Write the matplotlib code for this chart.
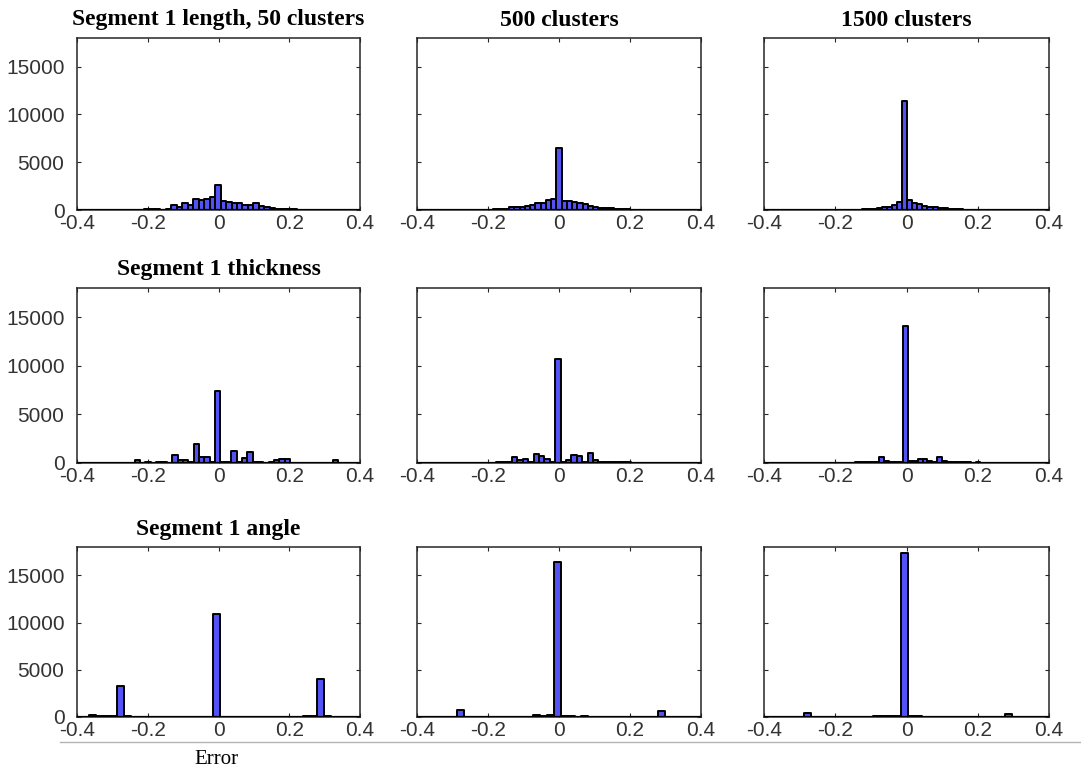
import numpy as np
import matplotlib
matplotlib.use("Agg")
import matplotlib.pyplot as plt
from matplotlib.lines import Line2D

# ---------------- data (histogram counts, keyed by bin index) ----------------
panel_titles = ["Segment 1 length, 50 clusters", "500 clusters", "1500 clusters",
                "Segment 1 thickness", "", "",
                "Segment 1 angle", "", ""]

x_ticks = [-0.4, -0.2, 0, 0.2, 0.4]
x_tick_labels = ["-0.4", "-0.2", "0", "0.2", "0.4"]
y_ticks = [0, 5000, 10000, 15000]
y_tick_labels = ["0", "5000", "10000", "15000"]

# bin width and centre of bin 0 for every panel
bin_widths = [0.0155, 0.0148, 0.0142,
              0.01515, 0.0152, 0.0135,
              0.0195, 0.0195, 0.0195]
bin_zero_centres = [-0.002, 0.0, -0.005,
                    -0.002, -0.003, -0.002,
                    -0.005, -0.005, -0.005]

length_50 = {-19: 30, -18: 30, -17: 40, -16: 30, -15: 40, -14: 50, -13: 60,
             -12: 80, -11: 100, -10: 50, -9: 100, -8: 500, -7: 300, -6: 700,
             -5: 550, -4: 1200, -3: 1000, -2: 1200, -1: 1350, 0: 2600,
             1: 950, 2: 800, 3: 750, 4: 750, 5: 500, 6: 500, 7: 750, 8: 400,
             9: 300, 10: 200, 11: 120, 12: 100, 13: 80, 14: 60, 15: 50,
             16: 40, 17: 30, 18: 30, 19: 40, 20: 30, 21: 30, 22: 20, 23: 30}
length_500 = {-16: 30, -15: 40, -14: 40, -13: 50, -12: 80, -11: 100, -10: 150,
              -9: 300, -8: 300, -7: 350, -6: 430, -5: 550, -4: 700, -3: 750,
              -2: 1050, -1: 1100, 0: 6500, 1: 900, 2: 900, 3: 820, 4: 700,
              5: 600, 6: 430, 7: 300, 8: 250, 9: 250, 10: 200, 11: 150,
              12: 100, 13: 80, 14: 50, 15: 40, 16: 30, 17: 30, 18: 20}
length_1500 = {-14: 30, -12: 30, -10: 30, -9: 40, -8: 60, -7: 80, -6: 130,
               -5: 200, -4: 280, -3: 350, -2: 500, -1: 800, 0: 11400,
               1: 1000, 2: 770, 3: 630, 4: 450, 5: 350, 6: 280, 7: 200,
               8: 170, 9: 100, 10: 80, 11: 60, 12: 40, 14: 30, 16: 30}
thick_50 = {-15: 280, -13: 60, -11: 80, -10: 100, -9: 50, -8: 830, -7: 310,
            -6: 310, -5: 60, -4: 1950, -3: 660, -2: 660, -1: 60, 0: 7400,
            1: 100, 2: 100, 3: 1250, 4: 100, 5: 490, 6: 1180, 7: 80, 8: 60,
            9: 40, 10: 150, 11: 310, 12: 380, 13: 450, 14: 30, 15: 30,
            22: 280, 24: 50}
thick_500 = {-14: 20, -13: 30, -12: 40, -11: 60, -10: 120, -9: 60, -8: 590,
             -7: 350, -6: 420, -5: 100, -4: 970, -3: 760, -2: 420, -1: 100,
             0: 10700, 1: 100, 2: 350, 3: 830, 4: 730, 5: 100, 6: 1000,
             7: 350, 8: 150, 9: 150, 10: 150, 11: 120, 12: 80, 13: 100,
             14: 30}
thick_1500 = {-13: 50, -12: 30, -11: 40, -10: 60, -9: 150, -8: 150, -7: 80,
              -6: 100, -5: 620, -4: 200, -3: 150, -2: 120, -1: 150,
              0: 14050, 1: 200, 2: 200, 3: 450, 4: 450, 5: 200, 6: 150,
              7: 620, 8: 250, 9: 100, 10: 80, 11: 60, 12: 150, 13: 60,
              14: 40, 15: 80}
angle_50 = {-20: 30, -18: 175, -17: 60, -16: 100, -15: 100, -14: 3250,
            -13: 60, 0: 10900, 13: 80, 14: 60, 15: 4000, 16: 100, 17: 50,
            18: 50}
angle_500 = {-14: 700, -3: 175, -2: 60, -1: 175, 0: 16400, 1: 150, 2: 60,
             4: 100, 15: 600}
angle_1500 = {-14: 450, -4: 60, -3: 60, -2: 80, -1: 100, 0: 17400, 1: 100,
              2: 60, 15: 350}

panel_counts = [length_50, length_500, length_1500,
                thick_50, thick_500, thick_1500,
                angle_50, angle_500, angle_1500]

# ---------------- style ----------------
W, H = 1081, 772
fig = plt.figure(figsize=(W / 100, H / 100), dpi=100)

col_x = [(77, 360), (417, 701), (764, 1049)]
row_y = [(38, 210), (288, 463), (547, 717)]

bar_color = "#5252f5"
axis_color = "#262626"
tick_color = "#333333"
tick_font = "Liberation Sans"
title_font = "Liberation Serif"

for i in range(9):
    r, c = divmod(i, 3)
    x0, x1 = col_x[c]
    y0, y1 = row_y[r]
    ax = fig.add_axes([x0 / W, 1 - y1 / H, (x1 - x0) / W, (y1 - y0) / H])

    w = bin_widths[i]
    c0 = bin_zero_centres[i]
    kmin = int(np.ceil((-0.4 - c0) / w - 0.5))
    kmax = int(np.floor((0.4 - c0) / w + 0.5))
    ks = np.arange(kmin, kmax + 1)
    counts = [panel_counts[i].get(int(k), 0) for k in ks]
    centres = c0 + ks * w
    ax.bar(centres, counts, width=w, color=bar_color, edgecolor="black",
           linewidth=1.4, joinstyle="round", zorder=2)
    # zero-height bins are still outlined in the original: a black baseline
    ax.axhline(0, color="black", linewidth=1.6, zorder=3)

    ax.set_xlim(-0.4, 0.4)
    ax.set_ylim(0, 18000)
    ax.set_xticks(x_ticks)
    ax.set_xticklabels(x_tick_labels)
    ax.set_yticks(y_ticks)
    if c == 0:
        ax.set_yticklabels(y_tick_labels)
    else:
        ax.set_yticklabels([])
    ax.tick_params(direction="in", length=3, width=0.8, colors=axis_color,
                   top=True, right=True, labelsize=15)
    ax.tick_params(axis="x", pad=3)
    ax.tick_params(axis="y", pad=9)
    for lab in ax.get_xticklabels() + ax.get_yticklabels():
        lab.set_fontfamily(tick_font)
        lab.set_color(tick_color)
    for lab in ax.get_yticklabels():
        lab.set_verticalalignment("center_baseline")
    for sp in ax.spines.values():
        sp.set_color(axis_color)
        sp.set_linewidth(1.1)

    if panel_titles[i]:
        ax.set_title(panel_titles[i], fontfamily=title_font,
                     fontweight="bold", fontsize=17, pad=9, color="black")

# separator line and "Error" label at the bottom
fig.add_artist(Line2D([60 / W, 1.0], [1 - 742 / H, 1 - 742 / H],
                      color="#b4b4b4", linewidth=1.0))
fig.text(216 / W, 1 - 760 / H, "Error", fontfamily=title_font, fontsize=15,
         ha="center", va="center", color="black")

fig.savefig("out.png", dpi=100)
